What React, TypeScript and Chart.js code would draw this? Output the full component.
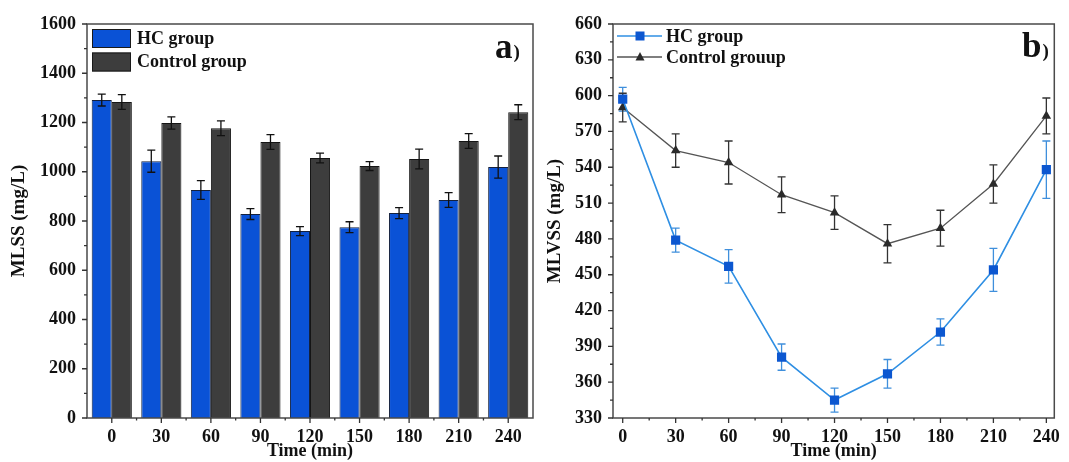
import { useEffect, useRef } from "react";
import { Chart, registerables } from "chart.js";

Chart.register(...registerables);

const FONT = "'Liberation Serif', 'Times New Roman', serif";

// Sampling times (min)
const timeLabels = ["0", "30", "60", "90", "120", "150", "180", "210", "240"];
const times = [0, 30, 60, 90, 120, 150, 180, 210, 240];

// Panel a) MLSS (mg/L)
const mlssHC = [1291, 1043, 926, 828, 759, 775, 832, 885, 1019];
const mlssHCErr = [24, 45, 38, 22, 18, 22, 22, 30, 45];
const mlssCtrl = [1283, 1198, 1177, 1121, 1056, 1023, 1052, 1125, 1242];
const mlssCtrlErr = [30, 25, 30, 30, 20, 18, 40, 30, 30];
const mlssTicks = [0, 200, 400, 600, 800, 1000, 1200, 1400, 1600];

// Panel b) MLVSS (mg/L)
const mlvssHC = [597, 479, 457, 381, 345, 367, 402, 454, 538];
const mlvssHCErr = [10, 10, 14, 11, 10, 12, 11, 18, 24];
const mlvssCtrl = [590, 554, 544, 517, 502, 476, 489, 526, 583];
const mlvssCtrlErr = [12, 14, 18, 15, 14, 16, 15, 16, 15];
const mlvssTicks = [330, 360, 390, 420, 450, 480, 510, 540, 570, 600, 630, 660];
const timeTicks = [0, 30, 60, 90, 120, 150, 180, 210, 240];

const tickFont = { family: FONT, size: 18, weight: "bold" as const, lineHeight: 1.2 };
const plainNumber = (v: any) => String(v);

function drawErrorBars(chart: any, cap: number) {
  const ctx = chart.ctx;
  const ys = chart.scales.y;
  chart.data.datasets.forEach((ds: any, i: number) => {
    const meta = chart.getDatasetMeta(i);
    meta.data.forEach((el: any, j: number) => {
      const raw = ds.data[j];
      const val = typeof raw === "number" ? raw : raw.y;
      const e = ds.errors[j];
      const yT = ys.getPixelForValue(val + e);
      const yB = ys.getPixelForValue(val - e);
      const x = el.x;
      ctx.save();
      ctx.strokeStyle = ds.errorColor;
      ctx.lineWidth = 1.3;
      ctx.beginPath();
      ctx.moveTo(x, yT);
      ctx.lineTo(x, yB);
      ctx.moveTo(x - cap, yT);
      ctx.lineTo(x + cap, yT);
      ctx.moveTo(x - cap, yB);
      ctx.lineTo(x + cap, yB);
      ctx.stroke();
      ctx.restore();
    });
  });
}

function drawFrameAndTicks(chart: any, category: boolean) {
  const ctx = chart.ctx;
  const { left, right, top, bottom } = chart.chartArea;
  const xs = chart.scales.x;
  const ys = chart.scales.y;
  ctx.save();
  ctx.strokeStyle = "#4a4a4a";
  ctx.lineWidth = 1.5;
  ctx.strokeRect(left, top, right - left, bottom - top);

  ctx.lineWidth = 1.3;
  ctx.strokeStyle = "#333";
  ctx.beginPath();
  const yt = ys.ticks.map((t: any) => t.value);
  yt.forEach((v: number, k: number) => {
    const y = ys.getPixelForValue(v);
    ctx.moveTo(left, y);
    ctx.lineTo(left - 5, y);
    if (k < yt.length - 1) {
      const ym = ys.getPixelForValue((v + yt[k + 1]) / 2);
      ctx.moveTo(left, ym);
      ctx.lineTo(left - 3, ym);
    }
  });
  if (category) {
    const n = xs.ticks.length;
    for (let i = 0; i < n; i++) {
      const x = xs.getPixelForTick(i);
      ctx.moveTo(x, bottom);
      ctx.lineTo(x, bottom + 5);
      if (i < n - 1) {
        const xm = (x + xs.getPixelForTick(i + 1)) / 2;
        ctx.moveTo(xm, bottom);
        ctx.lineTo(xm, bottom + 2.5);
      }
    }
  } else {
    const xt = xs.ticks.map((t: any) => t.value);
    xt.forEach((v: number, k: number) => {
      const x = xs.getPixelForValue(v);
      ctx.moveTo(x, bottom);
      ctx.lineTo(x, bottom + 5);
      if (k < xt.length - 1) {
        const xm = xs.getPixelForValue((v + xt[k + 1]) / 2);
        ctx.moveTo(xm, bottom);
        ctx.lineTo(xm, bottom + 2.5);
      }
    });
  }
  ctx.stroke();
  ctx.restore();
}

function drawPanelLetter(chart: any, letter: string, x: number, baseline: number) {
  const ctx = chart.ctx;
  ctx.save();
  ctx.fillStyle = "#111";
  ctx.textBaseline = "alphabetic";
  ctx.textAlign = "left";
  ctx.font = `bold 35px ${FONT}`;
  ctx.fillText(letter, x, baseline);
  const w = ctx.measureText(letter).width;
  ctx.font = `bold 19px ${FONT}`;
  ctx.fillText(")", x + w + 1, baseline);
  ctx.restore();
}

const barDecor = {
  id: "barDecor",
  afterDatasetsDraw(chart: any) {
    drawErrorBars(chart, 4);
  },
  afterDraw(chart: any) {
    drawFrameAndTicks(chart, true);
    const ctx = chart.ctx;
    ctx.save();
    chart.data.datasets.forEach((ds: any, i: number) => {
      const y0 = 29 + i * 23.5;
      ctx.fillStyle = ds.backgroundColor;
      ctx.strokeStyle = "#1a1a1a";
      ctx.lineWidth = 1;
      ctx.fillRect(92, y0, 39, 19);
      ctx.strokeRect(92.5, y0 + 0.5, 38, 18);
      ctx.fillStyle = "#111";
      ctx.font = `bold 18px ${FONT}`;
      ctx.textBaseline = "middle";
      ctx.fillText(ds.label, 137, y0 + 10);
    });
    ctx.restore();
    drawPanelLetter(chart, "a", 495, 58);
  },
};

const lineDecor = {
  id: "lineDecor",
  beforeDatasetsDraw(chart: any) {
    drawErrorBars(chart, 4);
  },
  afterDraw(chart: any) {
    drawFrameAndTicks(chart, false);
    const ctx = chart.ctx;
    ctx.save();
    chart.data.datasets.forEach((ds: any, i: number) => {
      const y = 36 + i * 21;
      ctx.strokeStyle = ds.borderColor;
      ctx.lineWidth = ds.borderWidth;
      ctx.beginPath();
      ctx.moveTo(77, y);
      ctx.lineTo(122, y);
      ctx.stroke();
      ctx.fillStyle = ds.pointBackgroundColor;
      if (ds.pointStyle === "rect") {
        ctx.fillRect(100 - 4.5, y - 4.5, 9, 9);
      } else {
        ctx.beginPath();
        ctx.moveTo(100, y - 5);
        ctx.lineTo(104.5, y + 3.5);
        ctx.lineTo(95.5, y + 3.5);
        ctx.closePath();
        ctx.fill();
      }
      ctx.fillStyle = "#111";
      ctx.font = `bold 18px ${FONT}`;
      ctx.textBaseline = "middle";
      ctx.fillText(ds.label, 126, y + 1);
    });
    ctx.restore();
    drawPanelLetter(chart, "b", 482, 57);
  },
};

function MlssChart() {
  const ref = useRef<HTMLCanvasElement>(null);
  useEffect(() => {
    const chart = new Chart(ref.current!, {
      type: "bar",
      data: {
        labels: timeLabels,
        datasets: [
          {
            label: "HC group",
            data: mlssHC,
            errors: mlssHCErr,
            errorColor: "#111",
            backgroundColor: "#0a52d6",
            borderColor: "#14213d",
            borderWidth: 1,
            categoryPercentage: 0.81,
            barPercentage: 1,
          } as any,
          {
            label: "Control group",
            data: mlssCtrl,
            errors: mlssCtrlErr,
            errorColor: "#111",
            backgroundColor: "#3d3d3d",
            borderColor: "#151515",
            borderWidth: 1,
            categoryPercentage: 0.81,
            barPercentage: 1,
          } as any,
        ],
      },
      options: {
        responsive: false,
        animation: false,
        layout: { padding: { left: 0, right: 7, top: 24, bottom: 0 } },
        plugins: { legend: { display: false }, tooltip: { enabled: false } },
        scales: {
          x: {
            grid: { display: false, drawTicks: false },
            border: { display: false },
            ticks: { font: tickFont, color: "#111", padding: 9, maxRotation: 0 },
            title: {
              display: true,
              text: "Time (min)",
              font: { family: FONT, size: 18, weight: "bold", lineHeight: 1.2 },
              color: "#111",
              padding: { top: 0, bottom: 0 },
            },
            afterFit: (s: any) => {
              s.height = 44;
            },
          },
          y: {
            min: 0,
            max: 1600,
            afterBuildTicks: (s: any) => {
              s.ticks = mlssTicks.map((v) => ({ value: v }));
            },
            grid: { display: false, drawTicks: false },
            border: { display: false },
            ticks: { font: tickFont, color: "#111", padding: 11, callback: plainNumber },
            title: {
              display: true,
              text: "MLSS (mg/L)",
              font: { family: FONT, size: 19, weight: "bold", lineHeight: 1.2 },
              color: "#111",
              padding: { top: 7.6, bottom: 0 },
            },
            afterFit: (s: any) => {
              s.width = 87;
            },
          },
        },
      },
      plugins: [barDecor],
    } as any);
    return () => chart.destroy();
  }, []);
  return <canvas ref={ref} width={540} height={462} />;
}

function MlvssChart() {
  const ref = useRef<HTMLCanvasElement>(null);
  useEffect(() => {
    const chart = new Chart(ref.current!, {
      type: "line",
      data: {
        datasets: [
          {
            label: "HC group",
            data: times.map((t, i) => ({ x: t, y: mlvssHC[i] })),
            errors: mlvssHCErr,
            errorColor: "#3f8fdc",
            borderColor: "#2f8fe3",
            borderWidth: 1.6,
            pointStyle: "rect",
            pointRadius: 6.5,
            pointBackgroundColor: "#0c57d0",
            pointBorderColor: "#0c57d0",
            pointBorderWidth: 0,
            fill: false,
          } as any,
          {
            label: "Control grouup",
            data: times.map((t, i) => ({ x: t, y: mlvssCtrl[i] })),
            errors: mlvssCtrlErr,
            errorColor: "#333",
            borderColor: "#555",
            borderWidth: 1.3,
            pointStyle: "triangle",
            pointRadius: 5.5,
            pointBackgroundColor: "#2a2a2a",
            pointBorderColor: "#2a2a2a",
            pointBorderWidth: 0,
            fill: false,
          } as any,
        ],
      },
      options: {
        responsive: false,
        animation: false,
        layout: { padding: { left: 0, right: 8, top: 24, bottom: 0 } },
        plugins: { legend: { display: false }, tooltip: { enabled: false } },
        scales: {
          x: {
            type: "linear",
            min: -5.5,
            max: 244.5,
            afterBuildTicks: (s: any) => {
              s.ticks = timeTicks.map((v) => ({ value: v }));
            },
            grid: { display: false, drawTicks: false },
            border: { display: false },
            ticks: { font: tickFont, color: "#111", padding: 9, maxRotation: 0, callback: plainNumber },
            title: {
              display: true,
              text: "Time (min)",
              font: { family: FONT, size: 18, weight: "bold", lineHeight: 1.2 },
              color: "#111",
              padding: { top: 0, bottom: 0 },
            },
            afterFit: (s: any) => {
              s.height = 44;
            },
          },
          y: {
            min: 330,
            max: 660,
            afterBuildTicks: (s: any) => {
              s.ticks = mlvssTicks.map((v) => ({ value: v }));
            },
            grid: { display: false, drawTicks: false },
            border: { display: false },
            ticks: { font: tickFont, color: "#111", padding: 11, callback: plainNumber },
            title: {
              display: true,
              text: "MLVSS (mg/L)",
              font: { family: FONT, size: 19, weight: "bold", lineHeight: 1.2 },
              color: "#111",
              padding: { top: 3.6, bottom: 0 },
            },
            afterFit: (s: any) => {
              s.width = 73;
            },
          },
        },
      },
      plugins: [lineDecor],
    } as any);
    return () => chart.destroy();
  }, []);
  return <canvas ref={ref} width={529} height={462} />;
}

export default function App() {
  return (
    <div
      style={{
        position: "fixed",
        left: 0,
        top: 0,
        width: 1069,
        height: 462,
        background: "#fff",
        overflow: "hidden",
      }}
    >
      <div style={{ position: "absolute", left: 0, top: 0 }}>
        <MlssChart />
      </div>
      <div style={{ position: "absolute", left: 540, top: 0 }}>
        <MlvssChart />
      </div>
    </div>
  );
}
